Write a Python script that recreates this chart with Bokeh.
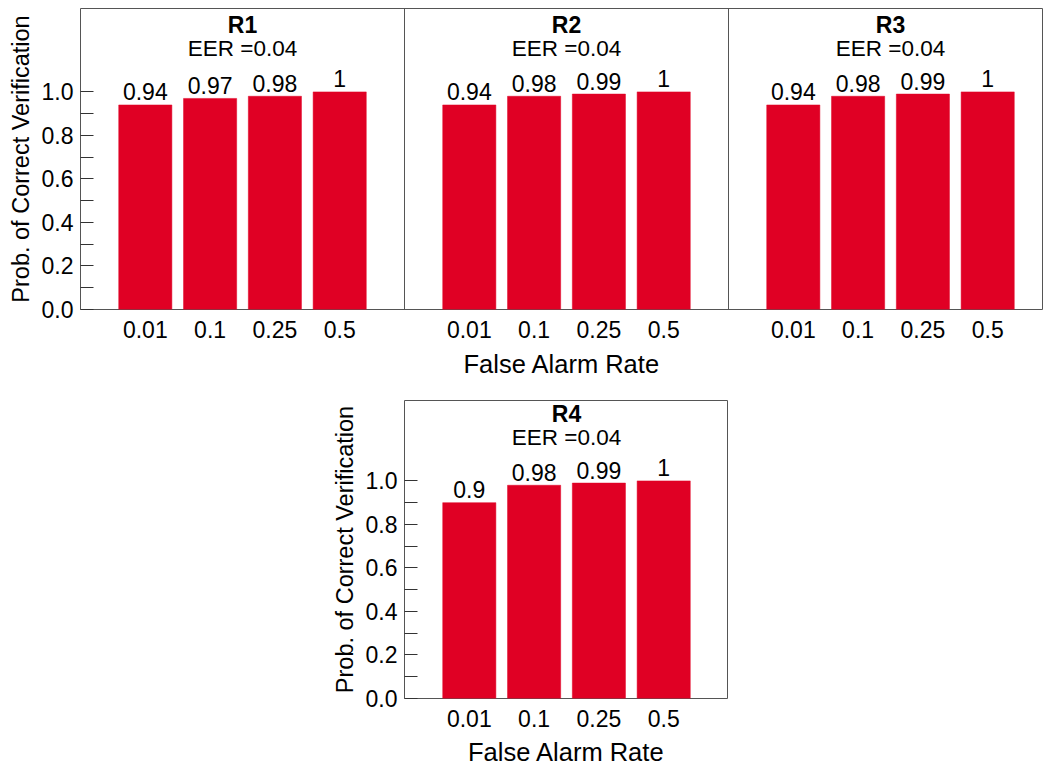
from bokeh.plotting import figure
from bokeh.layouts import column, row
from bokeh.models import FixedTicker, Span, Spacer, ColumnDataSource, PrintfTickFormatter
from bokeh.core.properties import value
from bokeh.embed import file_html
from bokeh.resources import INLINE

# ---------------- data ----------------
panels = ["R1", "R2", "R3", "R4"]
eer = [0.04, 0.04, 0.04, 0.04]
false_alarm_rates = ["0.01", "0.1", "0.25", "0.5"]
r1_values = [0.94, 0.97, 0.98, 1.0]
r2_values = [0.94, 0.98, 0.99, 1.0]
r3_values = [0.94, 0.98, 0.99, 1.0]
r4_values = [0.90, 0.98, 0.99, 1.0]
y_major_ticks = [0.0, 0.2, 0.4, 0.6, 0.8, 1.0]
y_minor_ticks = [0.1, 0.3, 0.5, 0.7, 0.9]

# ---------------- style ----------------
FONT = "Liberation Sans"
RED = "#E00024"
GRAY = "#555555"
UNIT_PX = 64.8          # pixels per x unit
Y_PX = 217.6            # pixels per y unit
BAR_W = 0.82
TITLE_Y = 1.308
SUB_Y = 1.198


def style(p, tick_pos, tick_lbl, lbl_standoff, axlbl_standoff):
    p.outline_line_color = GRAY
    p.outline_line_width = 1
    p.xgrid.visible = False
    p.ygrid.visible = False
    p.min_border_top = 8
    p.min_border_right = 0
    ya = p.yaxis[0]
    ya.ticker = FixedTicker(ticks=y_major_ticks, minor_ticks=y_minor_ticks)
    ya.formatter = PrintfTickFormatter(format="%.1f")
    ya.major_tick_in = 13
    ya.major_tick_out = 0
    ya.minor_tick_in = 13
    ya.minor_tick_out = 0
    ya.major_tick_line_color = "#333333"
    ya.minor_tick_line_color = "#333333"
    ya.axis_line_color = None
    ya.major_label_standoff = 7
    ya.major_label_text_font = FONT
    ya.major_label_text_font_size = "23px"
    ya.major_label_text_color = "black"
    ya.axis_label = "Prob. of Correct Verification"
    ya.axis_label_text_font = FONT
    ya.axis_label_text_font_size = "23.5px"
    ya.axis_label_text_font_style = "normal"
    ya.axis_label_text_color = "black"
    ya.axis_label_standoff = 5
    xa = p.xaxis[0]
    xa.ticker = FixedTicker(ticks=tick_pos)
    xa.major_label_overrides = dict(zip(tick_pos, tick_lbl))
    xa.major_tick_line_color = None
    xa.minor_tick_line_color = None
    xa.axis_line_color = None
    xa.major_label_standoff = lbl_standoff
    xa.major_label_text_font = FONT
    xa.major_label_text_font_size = "23px"
    xa.major_label_text_color = "black"
    xa.axis_label = "False Alarm Rate"
    xa.axis_label_text_font = FONT
    xa.axis_label_text_font_size = "25.5px"
    xa.axis_label_text_font_style = "normal"
    xa.axis_label_text_color = "black"
    xa.axis_label_standoff = axlbl_standoff


def fmt(v):
    return "%g" % v


def draw_panel(p, offset, name, e, vals):
    xs = [offset + i + 1 for i in range(len(vals))]
    src = ColumnDataSource(dict(x=xs, top=vals, lbl=[fmt(v) for v in vals]))
    p.vbar(x="x", top="top", bottom=0, width=BAR_W, source=src,
           fill_color=RED, line_color=RED, line_width=0.5)
    p.text(x="x", y="top", text="lbl", source=src, text_font=value(FONT),
           text_font_size="23px", text_align="center", text_baseline="middle",
           y_offset=-13, text_color="black")
    cx = offset + (len(vals) + 1) / 2
    p.text(x=[cx], y=[TITLE_Y], text=[name], text_font=value(FONT),
           text_font_size="23px", text_font_style="bold", text_align="center",
           text_baseline="middle", text_color="black")
    p.text(x=[cx], y=[SUB_Y], text=["EER =%g" % e], text_font=value(FONT),
           text_font_size="22.5px", text_align="center",
           text_baseline="middle", text_color="black")
    return xs


# ---------------- top row (R1, R2, R3 in one frame) ----------------
top_frame_w = 963
top_frame_h = 301
top = figure(frame_width=top_frame_w, frame_height=top_frame_h,
             x_range=(0, top_frame_w / UNIT_PX), y_range=(0, top_frame_h / Y_PX),
             output_backend="svg", toolbar_location=None,
             min_border_left=80, min_border_bottom=91)
tick_pos, tick_lbl = [], []
for k, (name, vals) in enumerate(zip(panels[:3], [r1_values, r2_values, r3_values])):
    xs = draw_panel(top, 5 * k, name, eer[k], vals)
    tick_pos += xs
    tick_lbl += false_alarm_rates
style(top, tick_pos, tick_lbl, 5, 9)
for sep in (5, 10):
    top.add_layout(Span(location=sep, dimension="height", line_color=GRAY, line_width=1))

# ---------------- bottom row (R4) ----------------
bot_frame_h = 298
bot = figure(frame_width=324, frame_height=bot_frame_h,
             x_range=(0, 5), y_range=(0, bot_frame_h / Y_PX),
             output_backend="svg", toolbar_location=None,
             min_border_left=80, min_border_bottom=62)
xs4 = draw_panel(bot, 0, panels[3], eer[3], r4_values)
style(bot, xs4, false_alarm_rates, 5, 8)
bot.min_border_top = 0

layout = column(top, row(Spacer(width=324, height=10), bot))

with open("out.html", "w") as f:
    f.write(file_html(layout, INLINE))
